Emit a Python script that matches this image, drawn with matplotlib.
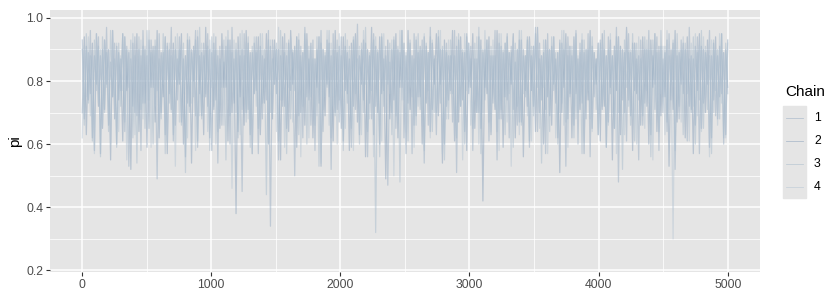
import matplotlib
matplotlib.use("Agg")
import matplotlib.pyplot as plt
from matplotlib.lines import Line2D
from matplotlib.patches import Rectangle
import numpy as np

plt.rcParams["font.family"] = ["Liberation Sans", "DejaVu Sans"]

# trace values per chain (in hundredths) at a coarse step
chain1 = [93, 68, 91, 74, 96, 62, 88, 79, 94, 57, 90, 71, 97, 66, 86, 75,
          92, 60, 89, 77, 95, 64, 91, 53, 87, 72, 94, 69, 90, 58, 96, 73,
          88, 65, 93, 78, 91, 49, 95, 70, 89, 63, 92, 76, 97, 61, 90, 74,
          94, 67, 87, 56, 93, 72, 90, 80, 96, 59, 88, 69, 92, 75, 95, 62,
          89, 71, 94, 54, 91, 66, 86, 78, 93, 60, 97, 73, 90, 64, 88, 45,
          95, 70, 92, 63, 89, 76, 94, 57, 91, 68, 87, 74, 96, 34, 93, 79,
          90, 55, 88, 72, 95, 65, 92, 77, 89, 50, 94, 69, 91, 62, 97, 75,
          87, 66, 93, 58, 90, 73, 96, 64, 88, 79, 92, 52, 95, 70, 89, 67,
          94, 61, 91, 76, 87, 59, 93, 71, 98, 63, 90, 74, 92, 56, 88, 68,
          95, 72, 89, 60, 94, 77, 91, 47, 86, 70, 93, 65, 90, 78, 96, 62,
          88, 73, 92, 57, 95, 69, 89, 75, 93, 54, 91, 66, 97, 71, 87, 63,
          94, 79, 90, 60, 92, 74, 88, 67, 96, 51, 93, 72, 89, 64, 95, 76,
          91, 58, 87, 70, 94, 65, 90, 78, 93, 61, 88, 73, 96, 55, 92, 68,
          89, 75, 95, 62, 91, 71, 86, 66, 93, 67, 90, 77, 94, 59, 88, 72,
          97, 64, 92, 74, 89, 57, 95, 69, 91, 79, 87, 62, 93, 70, 90, 53,
          94, 76, 88, 66, 96, 60, 92, 73, 89, 68, 95, 56, 91, 75, 87, 63,
          93, 71, 90, 59, 94, 78, 88, 65, 97, 48, 91, 74, 89, 61, 95, 69,
          92, 77, 87, 55, 93, 66, 90, 72, 96, 63, 88, 79, 94, 58, 91, 70,
          89, 64, 95, 74, 92, 52, 88, 68, 93, 76, 90, 61, 97, 71, 87, 66,
          94, 57, 91, 73, 89, 79, 96, 62, 92, 69, 88, 75, 95, 60, 90, 78]
chain2 = [70, 94, 63, 89, 76, 92, 58, 95, 72, 88, 65, 93, 79, 90, 55, 96,
          68, 91, 74, 87, 61, 94, 77, 89, 52, 92, 70, 95, 64, 88, 73, 90,
          59, 93, 78, 91, 67, 96, 62, 89, 75, 94, 57, 90, 71, 92, 66, 87,
          79, 95, 60, 88, 73, 93, 54, 91, 69, 94, 76, 89, 63, 97, 72, 90,
          58, 92, 74, 88, 65, 95, 78, 91, 61, 93, 70, 87, 38, 94, 75, 90,
          66, 96, 71, 89, 57, 92, 77, 94, 63, 88, 73, 95, 60, 91, 68, 93,
          76, 90, 55, 94, 72, 88, 64, 96, 79, 91, 59, 93, 70, 89, 66, 95,
          74, 92, 62, 87, 78, 94, 53, 90, 69, 93, 75, 88, 61, 96, 71, 91,
          65, 94, 77, 89, 58, 92, 72, 95, 67, 88, 79, 93, 56, 90, 73, 97,
          63, 91, 70, 94, 76, 87, 49, 93, 68, 90, 74, 95, 62, 89, 78, 92,
          57, 96, 71, 88, 66, 93, 75, 91, 60, 94, 73, 89, 64, 92, 79, 95,
          69, 90, 54, 93, 72, 88, 77, 96, 61, 91, 67, 94, 74, 89, 58, 92,
          78, 95, 65, 87, 70, 93, 42, 90, 76, 94, 63, 88, 71, 96, 68, 91,
          59, 92, 74, 89, 79, 95, 62, 90, 67, 93, 56, 88, 72, 94, 77, 91,
          64, 97, 70, 88, 60, 93, 75, 90, 66, 94, 73, 89, 51, 92, 78, 95,
          68, 91, 62, 94, 76, 87, 71, 93, 57, 90, 74, 96, 65, 89, 79, 92,
          61, 95, 72, 88, 67, 93, 55, 91, 77, 94, 63, 90, 70, 97, 74, 89,
          58, 92, 76, 88, 66, 94, 73, 90, 60, 93, 78, 95, 64, 91, 69, 87,
          75, 93, 53, 90, 71, 96, 67, 89, 79, 92, 62, 94, 72, 88, 57, 91,
          77, 95, 65, 90, 70, 93, 59, 88, 74, 94, 68, 91, 76, 89, 63, 93]
chain3 = [90, 66, 95, 73, 88, 61, 93, 77, 91, 56, 94, 70, 89, 64, 96, 75,
          87, 59, 92, 72, 95, 67, 90, 78, 93, 62, 88, 54, 94, 71, 91, 65,
          96, 74, 89, 60, 93, 77, 87, 68, 95, 57, 91, 73, 88, 63, 94, 79,
          90, 66, 92, 51, 95, 70, 89, 75, 93, 61, 97, 68, 88, 76, 91, 58,
          94, 72, 90, 64, 87, 78, 93, 55, 96, 69, 89, 74, 92, 62, 95, 71,
          88, 67, 94, 59, 91, 76, 89, 65, 95, 73, 90, 44, 93, 70, 87, 79,
          92, 61, 96, 74, 89, 57, 93, 68, 90, 77, 94, 63, 88, 72, 95, 60,
          91, 75, 87, 66, 94, 53, 92, 71, 89, 78, 96, 62, 90, 69, 93, 74,
          88, 58, 95, 73, 91, 65, 94, 76, 87, 60, 92, 70, 97, 64, 89, 77,
          93, 32, 90, 56, 95, 72, 88, 79, 92, 63, 94, 69, 91, 48, 96, 74,
          89, 61, 93, 75, 87, 66, 95, 71, 90, 58, 92, 77, 94, 64, 88, 70,
          96, 73, 91, 55, 89, 68, 93, 76, 88, 62, 95, 72, 90, 60, 94, 78,
          87, 65, 92, 70, 97, 57, 89, 74, 93, 67, 91, 79, 88, 64, 95, 71,
          90, 63, 94, 76, 89, 59, 92, 72, 96, 66, 88, 75, 93, 61, 91, 69,
          95, 78, 87, 54, 93, 71, 90, 64, 94, 77, 89, 60, 92, 73, 96, 67,
          88, 75, 91, 62, 95, 70, 89, 57, 93, 74, 90, 68, 94, 79, 87, 63,
          92, 72, 96, 59, 90, 76, 88, 65, 94, 70, 91, 52, 93, 78, 89, 66,
          95, 61, 92, 74, 87, 69, 94, 77, 90, 56, 93, 71, 89, 64, 96, 75,
          91, 67, 88, 79, 93, 58, 95, 72, 90, 63, 92, 76, 87, 70, 94, 60,
          89, 74, 96, 65, 91, 71, 88, 57, 93, 77, 90, 68, 95, 62, 92, 76]
chain4 = [62, 91, 75, 94, 69, 88, 57, 95, 73, 90, 66, 93, 78, 89, 60, 96,
          71, 92, 64, 88, 77, 94, 55, 90, 70, 95, 63, 89, 76, 93, 68, 91,
          74, 96, 59, 90, 72, 93, 65, 88, 79, 94, 61, 92, 70, 89, 53, 95,
          67, 91, 76, 88, 62, 94, 73, 90, 58, 96, 69, 92, 75, 89, 64, 93,
          78, 95, 60, 90, 71, 87, 66, 94, 74, 91, 46, 93, 70, 89, 63, 96,
          75, 92, 68, 88, 57, 94, 72, 90, 65, 95, 77, 89, 61, 93, 70, 91,
          64, 97, 74, 88, 59, 92, 78, 94, 67, 90, 71, 95, 56, 89, 73, 93,
          62, 91, 76, 87, 69, 94, 54, 90, 75, 96, 66, 92, 72, 89, 60, 95,
          77, 90, 65, 93, 71, 88, 58, 94, 74, 91, 63, 96, 79, 89, 68, 92,
          56, 94, 73, 90, 61, 95, 70, 88, 76, 93, 50, 91, 67, 96, 74, 89,
          64, 92, 78, 88, 59, 94, 72, 90, 66, 95, 75, 89, 62, 93, 70, 87,
          73, 96, 57, 91, 68, 93, 76, 88, 63, 94, 71, 90, 55, 95, 77, 92,
          66, 89, 74, 94, 60, 91, 70, 96, 78, 88, 64, 93, 72, 90, 58, 95,
          75, 92, 67, 89, 53, 94, 71, 90, 63, 96, 76, 88, 69, 93, 61, 91,
          72, 95, 65, 88, 78, 93, 57, 90, 74, 94, 62, 89, 70, 96, 66, 92,
          59, 91, 76, 93, 68, 88, 73, 95, 61, 90, 77, 94, 64, 89, 71, 92,
          70, 93, 74, 88, 66, 95, 70, 91, 57, 94, 75, 89, 63, 96, 72, 90,
          68, 92, 60, 94, 77, 88, 65, 93, 73, 90, 55, 95, 70, 89, 76, 91,
          63, 96, 71, 88, 30, 93, 74, 90, 67, 94, 79, 89, 61, 92, 72, 95,
          69, 91, 64, 94, 75, 88, 56, 93, 70, 90, 66, 95, 73, 89, 62, 92]

chain_labels = ["1", "2", "3", "4"]
chain_colors = ["#9aafc5", "#8ca3bc", "#a9bccd", "#b7c6d4"]
n_iter = 5000

fig = plt.figure(figsize=(8.36, 3.0), dpi=100)
ax = fig.add_axes([50 / 836, 28 / 300, 710 / 836, 262 / 300])
ax.set_facecolor("#E5E5E5")

for vals, col in zip([chain1, chain2, chain3, chain4], chain_colors):
    it = np.linspace(1, n_iter, len(vals))
    ax.plot(it, np.array(vals) / 100, color=col, lw=0.9, alpha=0.5)

ax.set_xlim(-249, 5250)
ax.set_ylim(0.195, 1.025)
ax.set_xticks([0, 1000, 2000, 3000, 4000, 5000])
ax.set_xticks([500, 1500, 2500, 3500, 4500], minor=True)
ax.set_yticks([0.2, 0.4, 0.6, 0.8, 1.0])
ax.set_yticks([0.3, 0.5, 0.7, 0.9], minor=True)
ax.grid(which="major", color="white", lw=1.1)
ax.grid(which="minor", color="white", lw=0.55)
ax.set_axisbelow(True)
for s in ax.spines.values():
    s.set_visible(False)
ax.tick_params(which="major", length=3, color="#333333", labelsize=8.8,
               labelcolor="#4D4D4D", pad=2)
ax.tick_params(which="minor", length=0)
ax.set_ylabel("pi", fontsize=11, color="black", labelpad=3)

# legend, ggplot style
fig.text(785 / 836, 1 - 92 / 300, "Chain", fontsize=11, va="center", ha="left")
key_y = [118, 141, 164, 187]
fig.patches.append(Rectangle((783 / 836, 1 - 198 / 300), 23 / 836, 92 / 300,
                             transform=fig.transFigure, color="#E5E5E5", zorder=0))
for lab, col, ky in zip(chain_labels, chain_colors, key_y):
    fig.add_artist(Line2D([786 / 836, 803 / 836], [1 - ky / 300] * 2,
                          color=col, lw=0.6, alpha=0.6, transform=fig.transFigure))
    fig.text(814 / 836, 1 - ky / 300, lab, fontsize=8.8, va="center", ha="left")

fig.savefig("out.png", dpi=100)
